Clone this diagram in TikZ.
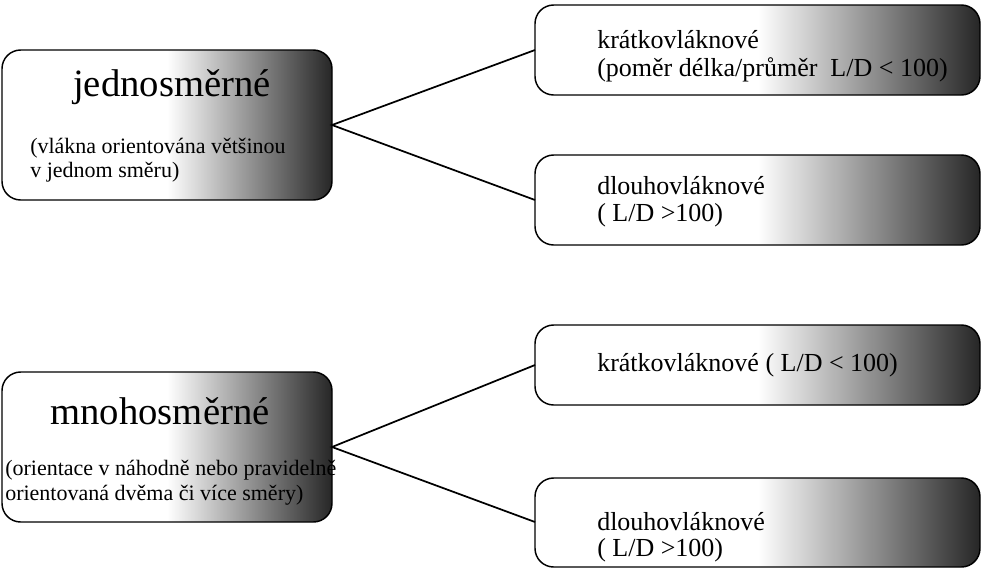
\documentclass[tikz,border=0pt]{standalone}
\usepackage{fontspec}
\setmainfont{Liberation Serif}
\pgfdeclarehorizontalshading{boxshade}{100bp}{color(0bp)=(white); color(25bp)=(white); color(50bp)=(white); color(75bp)=(black!85); color(100bp)=(black!85)}
\begin{document}
\begin{tikzpicture}[x=0.75pt,y=-0.75pt,
  box/.style={draw=black,line width=1.1pt,rounded corners=14pt,shading=boxshade},
  big/.style={font=\fontsize{29}{34}\selectfont},
  small/.style={font=\fontsize{19.5}{23}\selectfont,anchor=west,inner sep=0pt},
  lsmall/.style={font=\fontsize{16.5}{20}\selectfont,anchor=west,inner sep=0pt}]
\useasboundingbox (0,0) rectangle (983,572);
\path[box] (2,50) rectangle (332,200);
\path[box] (535,5) rectangle (980,95);
\path[box] (535,155) rectangle (980,245);
\path[box] (535,325) rectangle (980,405);
\path[box] (2,372) rectangle (332,522);
\path[box] (535,478) rectangle (980,567);
\coordinate (L1) at (332,125);
\coordinate (R1) at (535,50);
\coordinate (R2) at (535,200);
\coordinate (L2) at (332,447);
\coordinate (R3) at (535,365);
\coordinate (R4) at (535,522);
\draw[line width=1.3pt] (R1) -- (L1) -- (R2);
\draw[line width=1.3pt] (R3) -- (L2) -- (R4);
\node[big] (t1) at (172,87) {jednosměrné};
\node[lsmall] (t1a) at (30,148) {(vlákna orientována většinou};
\node[lsmall] (t1b) at (30,172) {v jednom směru)};
\node[small] (r1a) at (597,40) {krátkovláknové};
\node[small] (r1b) at (597,70) {(poměr délka/průměr\ \ L/D < 100)};
\node[small] (r2a) at (597,186) {dlouhovláknové};
\node[small] (r2b) at (597,215) {( L/D >100)};
\node[small] (r3a) at (597,365) {krátkovláknové ( L/D < 100)};
\node[big] (t2) at (160,411) {mnohosměrné};
\node[lsmall] (t2a) at (5,470) {(orientace v náhodně nebo pravidelně};
\node[lsmall] (t2b) at (5,495) {orientovaná dvěma či více směry)};
\node[small] (r4a) at (597,522) {dlouhovláknové};
\node[small] (r4b) at (597,550) {( L/D >100)};
\end{tikzpicture}
\end{document}
